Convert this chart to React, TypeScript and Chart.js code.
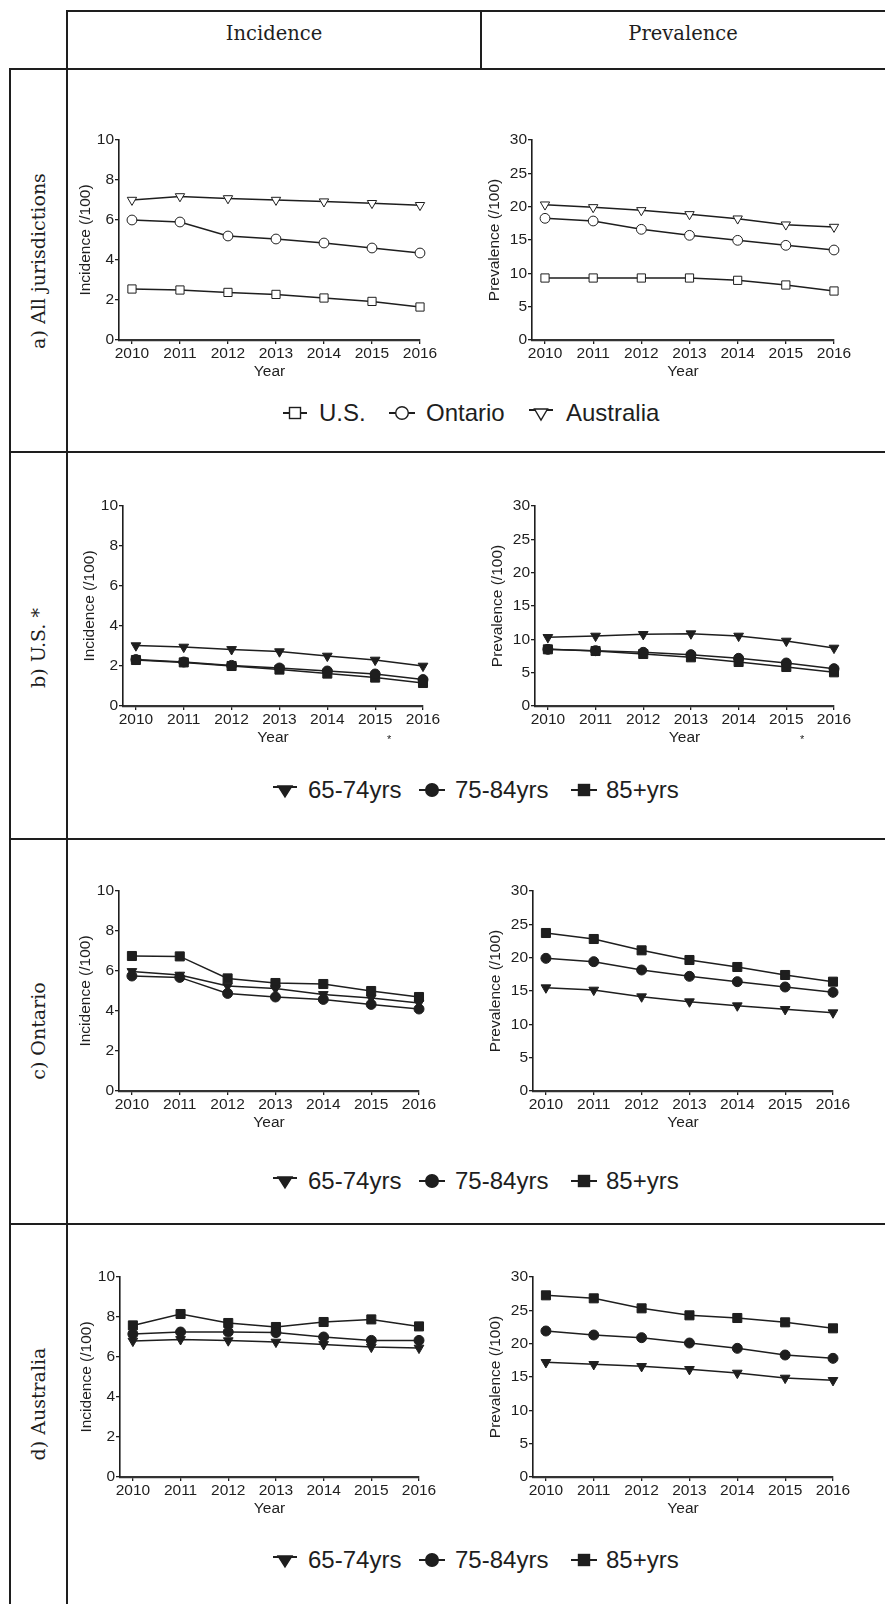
import React, { useEffect, useRef } from "react";
import { Chart, registerables } from "chart.js";

Chart.register(...registerables);

// ---------- data ----------
const years = [2010, 2011, 2012, 2013, 2014, 2015, 2016];
const incidenceTicks = [0, 2, 4, 6, 8, 10];
const prevalenceTicks = [0, 5, 10, 15, 20, 25, 30];

// a) All jurisdictions
const incUS = [2.55, 2.5, 2.38, 2.28, 2.1, 1.93, 1.65];
const incOntario = [6.0, 5.9, 5.2, 5.05, 4.85, 4.6, 4.35];
const incAustralia = [7.0, 7.18, 7.08, 7.0, 6.92, 6.84, 6.74];
const prevUS = [9.3, 9.3, 9.3, 9.3, 8.95, 8.25, 7.35];
const prevOntario = [18.25, 17.85, 16.6, 15.7, 14.95, 14.2, 13.5];
const prevAustralia = [20.3, 19.9, 19.45, 18.85, 18.2, 17.3, 16.95];

// b) U.S.
const usInc6574 = [3.02, 2.95, 2.83, 2.72, 2.5, 2.3, 2.0];
const usInc7584 = [2.32, 2.2, 2.03, 1.9, 1.75, 1.6, 1.32];
const usInc85 = [2.3, 2.18, 2.0, 1.82, 1.62, 1.42, 1.15];
const usPrev6574 = [10.3, 10.5, 10.75, 10.85, 10.5, 9.75, 8.7];
const usPrev7584 = [8.5, 8.3, 8.05, 7.7, 7.15, 6.45, 5.6];
const usPrev85 = [8.5, 8.25, 7.8, 7.3, 6.6, 5.85, 5.05];

// c) Ontario
const ontInc6574 = [5.98, 5.8, 5.25, 5.12, 4.83, 4.65, 4.4];
const ontInc7584 = [5.75, 5.68, 4.88, 4.7, 4.58, 4.33, 4.1];
const ontInc85 = [6.75, 6.73, 5.63, 5.4, 5.35, 5.0, 4.7];
const ontPrev6574 = [15.5, 15.15, 14.15, 13.4, 12.8, 12.25, 11.75];
const ontPrev7584 = [19.9, 19.4, 18.15, 17.2, 16.4, 15.6, 14.8];
const ontPrev85 = [23.7, 22.8, 21.1, 19.65, 18.6, 17.4, 16.4];

// d) Australia
const ausInc6574 = [6.8, 6.88, 6.82, 6.75, 6.63, 6.5, 6.45];
const ausInc7584 = [7.15, 7.25, 7.25, 7.22, 7.0, 6.83, 6.83];
const ausInc85 = [7.58, 8.15, 7.7, 7.5, 7.75, 7.88, 7.53];
const ausPrev6574 = [17.2, 16.9, 16.6, 16.15, 15.6, 14.85, 14.5];
const ausPrev7584 = [21.9, 21.3, 20.9, 20.1, 19.3, 18.3, 17.8];
const ausPrev85 = [27.25, 26.8, 25.3, 24.25, 23.85, 23.2, 22.3];

const jurisdictionLabels = ["U.S.", "Ontario", "Australia"];
const ageLabels = ["65-74yrs", "75-84yrs", "85+yrs"];
const columnHeaders = ["Incidence", "Prevalence"];
const rowLabels = ["a) All jurisdictions", "b) U.S. *", "c) Ontario", "d) Australia"];

// ---------- styles ----------
const INK = "#1e1e1e";
const SANS = "'Liberation Sans', Arial, Helvetica, sans-serif";
const SERIF = "'DejaVu Serif', 'Liberation Serif', serif";
const AXIS_FONT = 15.5;

type Marker = "square" | "circle" | "triangle";
type Series = { label: string; values: number[]; marker: Marker; filled: boolean };
type Area = { l: number; r: number; t: number; b: number };

function pointProps(marker: Marker, filled: boolean) {
  if (marker === "square") return { pointStyle: "rect", pointRadius: filled ? 6.4 : 5.8, pointRotation: 0 };
  if (marker === "circle") return { pointStyle: "circle", pointRadius: filled ? 5 : 4.9, pointRotation: 0 };
  return { pointStyle: "triangle", pointRadius: filled ? 5.6 : 5.4, pointRotation: 180 };
}

function PanelChart({ area, kind, series }: { area: Area; kind: "inc" | "prev"; series: Series[] }) {
  const ref = useRef<HTMLCanvasElement>(null);
  const yW = kind === "inc" ? 45 : 49;
  const padT = 12;
  const padR = 26;
  const xH = 43;
  const W = area.r - area.l + yW + padR;
  const H = area.b - area.t + padT + xH;

  useEffect(() => {
    const ticks = kind === "inc" ? incidenceTicks : prevalenceTicks;
    const tickFont = { family: SANS, size: AXIS_FONT };
    const chart = new Chart(ref.current as HTMLCanvasElement, {
      type: "line",
      data: {
        datasets: series.map((s) => ({
          label: s.label,
          data: years.map((yr, i) => ({ x: yr, y: s.values[i] })),
          borderColor: INK,
          borderWidth: 1.5,
          tension: 0,
          clip: false,
          pointBackgroundColor: s.filled ? INK : "#ffffff",
          pointBorderColor: INK,
          pointBorderWidth: 1,
          ...pointProps(s.marker, s.filled),
        })) as any,
      },
      options: {
        responsive: false,
        animation: false,
        events: [],
        layout: { padding: { left: 0, right: padR, top: padT, bottom: 0 } },
        plugins: { legend: { display: false }, tooltip: { enabled: false } },
        scales: {
          x: {
            type: "linear",
            min: years[0] - 0.27,
            max: years[years.length - 1],
            afterBuildTicks: (s: any) => {
              s.ticks = years.map((v) => ({ value: v }));
            },
            afterFit: (s: any) => {
              s.height = xH;
            },
            grid: { display: true, drawOnChartArea: false, drawTicks: true, tickLength: 4, color: INK, lineWidth: 1.3 },
            border: { display: true, color: "#333", width: 2.2, dash: [2, 1.2] },
            ticks: {
              color: INK,
              font: tickFont,
              padding: 0,
              maxRotation: 0,
              autoSkip: false,
              callback: (v: any) => String(v),
            },
            title: { display: true, text: "Year", color: INK, font: tickFont, padding: { top: 0, bottom: 2 } },
          },
          y: {
            type: "linear",
            min: ticks[0],
            max: ticks[ticks.length - 1],
            afterBuildTicks: (s: any) => {
              s.ticks = ticks.map((v) => ({ value: v }));
            },
            afterFit: (s: any) => {
              s.width = yW;
            },
            grid: { display: true, drawOnChartArea: false, drawTicks: true, tickLength: 4, color: INK, lineWidth: 1.3 },
            border: { display: true, color: INK, width: 1.6 },
            ticks: { color: INK, font: tickFont, padding: 1, callback: (v: any) => String(v) },
            title: {
              display: true,
              text: kind === "inc" ? "Incidence (/100)" : "Prevalence (/100)",
              color: INK,
              font: tickFont,
              padding: { top: 2, bottom: 0 },
            },
          },
        },
      } as any,
    });
    return () => chart.destroy();
  }, []);

  return (
    <canvas
      ref={ref}
      width={W}
      height={H}
      style={{ position: "absolute", left: area.l - yW, top: area.t - padT, width: W, height: H }}
    />
  );
}

function LegendMarker({ marker, filled, x1, x2, cy }: { marker: Marker; filled: boolean; x1: number; x2: number; cy: number }) {
  const w = x2 - x1;
  const h = 24;
  const mid = h / 2;
  const cx = w / 2;
  const fill = filled ? INK : "#fff";
  let shape: React.ReactNode = null;
  let lineY = mid;
  if (marker === "square") {
    const s = 11;
    shape = <rect x={cx - s / 2} y={mid - s / 2} width={s} height={s} fill={fill} stroke={INK} strokeWidth={1.4} />;
  } else if (marker === "circle") {
    shape = <circle cx={cx} cy={mid} r={6.3} fill={fill} stroke={INK} strokeWidth={1.4} />;
  } else {
    lineY = mid - 3;
    const tw = filled ? 14 : 13;
    const th = 11;
    shape = (
      <polygon
        points={`${cx - tw / 2},${lineY - 1} ${cx + tw / 2},${lineY - 1} ${cx},${lineY - 1 + th}`}
        fill={fill}
        stroke={INK}
        strokeWidth={1.4}
        strokeLinejoin="miter"
      />
    );
  }
  return (
    <svg width={w} height={h} style={{ position: "absolute", left: x1, top: cy - mid }}>
      <line x1={0} y1={lineY} x2={w} y2={lineY} stroke={INK} strokeWidth={2} />
      {shape}
    </svg>
  );
}

function LegendText({ x, cy, text }: { x: number; cy: number; text: string }) {
  return (
    <div
      style={{
        position: "absolute",
        left: x,
        top: cy - 14,
        height: 28,
        lineHeight: "28px",
        fontFamily: SANS,
        fontSize: 24,
        color: INK,
        whiteSpace: "nowrap",
      }}
    >
      {text}
    </div>
  );
}

function Line({ l, t, w, h }: { l: number; t: number; w: number; h: number }) {
  return <div style={{ position: "absolute", left: l, top: t, width: w, height: h, background: INK }} />;
}

const jurisdictionSeriesInc: Series[] = [
  { label: jurisdictionLabels[0], values: incUS, marker: "square", filled: false },
  { label: jurisdictionLabels[1], values: incOntario, marker: "circle", filled: false },
  { label: jurisdictionLabels[2], values: incAustralia, marker: "triangle", filled: false },
];
const jurisdictionSeriesPrev: Series[] = [
  { label: jurisdictionLabels[0], values: prevUS, marker: "square", filled: false },
  { label: jurisdictionLabels[1], values: prevOntario, marker: "circle", filled: false },
  { label: jurisdictionLabels[2], values: prevAustralia, marker: "triangle", filled: false },
];
function ageSeries(a: number[], b: number[], c: number[]): Series[] {
  return [
    { label: ageLabels[0], values: a, marker: "triangle", filled: true },
    { label: ageLabels[1], values: b, marker: "circle", filled: true },
    { label: ageLabels[2], values: c, marker: "square", filled: true },
  ];
}

function AgeLegend({ cy }: { cy: number }) {
  return (
    <>
      <LegendMarker marker="triangle" filled x1={273} x2={297} cy={cy} />
      <LegendText x={308} cy={cy} text={ageLabels[0]} />
      <LegendMarker marker="circle" filled x1={419} x2={445} cy={cy} />
      <LegendText x={455} cy={cy} text={ageLabels[1]} />
      <LegendMarker marker="square" filled x1={571} x2={597} cy={cy} />
      <LegendText x={606} cy={cy} text={ageLabels[2]} />
    </>
  );
}

function RowLabel({ cy, text }: { cy: number; text: string }) {
  return (
    <div
      style={{
        position: "absolute",
        left: 38,
        top: cy,
        transform: "translate(-50%, -50%) rotate(-90deg)",
        fontFamily: SERIF,
        fontSize: 19,
        color: INK,
        whiteSpace: "nowrap",
        lineHeight: "24px",
      }}
    >
      {text}
    </div>
  );
}

function Header({ cx, text }: { cx: number; text: string }) {
  return (
    <div
      style={{
        position: "absolute",
        left: cx,
        top: 34,
        transform: "translate(-50%, -50%)",
        fontFamily: SERIF,
        fontSize: 19.5,
        color: INK,
        whiteSpace: "nowrap",
        lineHeight: "24px",
      }}
    >
      {text}
    </div>
  );
}

export default function App() {
  return (
    <div style={{ position: "absolute", left: 0, top: 0, width: 885, height: 1604, background: "#fff", overflow: "hidden" }}>
      {/* table grid */}
      <Line l={67} t={10} w={818} h={2} />
      <Line l={66} t={10} w={2} h={1594} />
      <Line l={480} t={10} w={2} h={60} />
      <Line l={10} t={68} w={875} h={2} />
      <Line l={9} t={68} w={2} h={1536} />
      <Line l={10} t={451} w={875} h={2} />
      <Line l={10} t={838} w={875} h={2} />
      <Line l={10} t={1223} w={875} h={2} />

      <Header cx={274} text={columnHeaders[0]} />
      <Header cx={683} text={columnHeaders[1]} />

      <RowLabel cy={261} text={rowLabels[0]} />
      <RowLabel cy={648} text={rowLabels[1]} />
      <RowLabel cy={1031} text={rowLabels[2]} />
      <RowLabel cy={1404} text={rowLabels[3]} />

      {/* a) All jurisdictions */}
      <PanelChart area={{ l: 119, r: 420, t: 140, b: 340 }} kind="inc" series={jurisdictionSeriesInc} />
      <PanelChart area={{ l: 532, r: 834, t: 140, b: 340 }} kind="prev" series={jurisdictionSeriesPrev} />
      <LegendMarker marker="square" filled={false} x1={283} x2={307} cy={413} />
      <LegendText x={319} cy={413} text={jurisdictionLabels[0]} />
      <LegendMarker marker="circle" filled={false} x1={389} x2={415} cy={413} />
      <LegendText x={426} cy={413} text={jurisdictionLabels[1]} />
      <LegendMarker marker="triangle" filled={false} x1={529} x2={553} cy={413} />
      <LegendText x={566} cy={413} text={jurisdictionLabels[2]} />

      {/* b) U.S. */}
      <PanelChart area={{ l: 123, r: 423, t: 506, b: 706 }} kind="inc" series={ageSeries(usInc6574, usInc7584, usInc85)} />
      <PanelChart area={{ l: 535, r: 834, t: 506, b: 706 }} kind="prev" series={ageSeries(usPrev6574, usPrev7584, usPrev85)} />
      <div style={{ position: "absolute", left: 387, top: 733, fontFamily: SANS, fontSize: 11, color: INK }}>*</div>
      <div style={{ position: "absolute", left: 800, top: 733, fontFamily: SANS, fontSize: 11, color: INK }}>*</div>
      <AgeLegend cy={790} />

      {/* c) Ontario */}
      <PanelChart area={{ l: 119, r: 419, t: 891, b: 1091 }} kind="inc" series={ageSeries(ontInc6574, ontInc7584, ontInc85)} />
      <PanelChart area={{ l: 533, r: 833, t: 891, b: 1091 }} kind="prev" series={ageSeries(ontPrev6574, ontPrev7584, ontPrev85)} />
      <AgeLegend cy={1181} />

      {/* d) Australia */}
      <PanelChart area={{ l: 120, r: 419, t: 1277, b: 1477 }} kind="inc" series={ageSeries(ausInc6574, ausInc7584, ausInc85)} />
      <PanelChart area={{ l: 533, r: 833, t: 1277, b: 1477 }} kind="prev" series={ageSeries(ausPrev6574, ausPrev7584, ausPrev85)} />
      <AgeLegend cy={1560} />
    </div>
  );
}
